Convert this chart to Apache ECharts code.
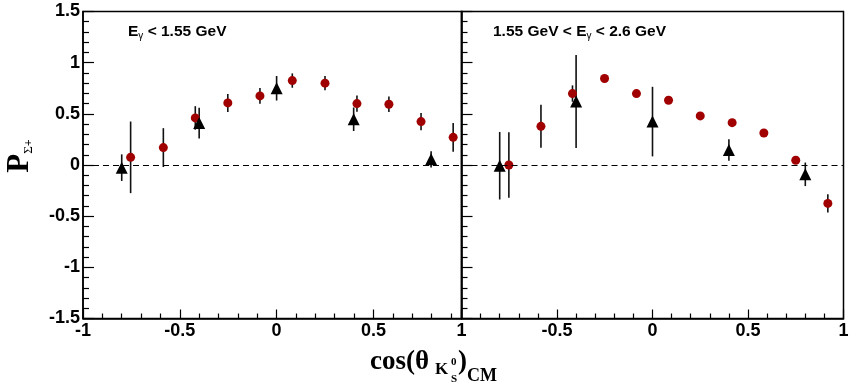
<!DOCTYPE html>
<html>
<head>
<meta charset="utf-8">
<script src="https://cdn.jsdelivr.net/npm/echarts@6/dist/echarts.min.js"></script>
<style>
  html, body { margin: 0; padding: 0; background: #fff; }
  #chart { width: 868px; height: 392px; }
</style>
</head>
<body>
<div id="chart"></div>
<script>
// E_gamma < 1.55 GeV
const lowCircX = [-0.754, -0.585, -0.42, -0.252, -0.086, 0.081, 0.25, 0.415, 0.58, 0.746, 0.912]
const lowCircY = [0.075, 0.17, 0.46, 0.607, 0.675, 0.825, 0.80, 0.60, 0.594, 0.424, 0.27]
const lowCircE = [0.35, 0.19, 0.115, 0.088, 0.077, 0.07, 0.07, 0.08, 0.075, 0.085, 0.14]
const lowTriX = [-0.80, -0.40, 0.0, 0.398, 0.798]
const lowTriY = [-0.026, 0.41, 0.75, 0.447, 0.055]
const lowTriE = [0.13, 0.15, 0.12, 0.115, 0.08]

// 1.55 GeV < E_gamma < 2.6 GeV
const highCircX = [-0.752, -0.584, -0.419, -0.251, -0.084, 0.084, 0.25, 0.417, 0.583, 0.75, 0.918]
const highCircY = [0.0, 0.378, 0.698, 0.845, 0.698, 0.633, 0.48, 0.414, 0.313, 0.046, -0.375]
const highCircE = [0.32, 0.21, 0.08, 0.02, 0.015, 0.015, 0.015, 0.015, 0.015, 0.02, 0.09]
const highTriX = [-0.80, -0.40, 0.0, 0.40, 0.80]
const highTriY = [-0.007, 0.62, 0.424, 0.147, -0.091]
const highTriE = [0.33, 0.455, 0.34, 0.105, 0.115]

const yTicks = ['-1.5', '-1', '-0.5', '0', '0.5', '1', '1.5']

const RED = '#a00000'
const FONT = 'Liberation Sans'
const SERIF = 'Liberation Serif'

const pts = (xs, ys) => xs.map((x, i) => [x, ys[i]])
const bars = (xs, ys, es) => xs.map((x, i) => [x, ys[i] - es[i], ys[i] + es[i]])

function errBar(params, api) {
  const a = api.coord([api.value(0), api.value(1)])
  const b = api.coord([api.value(0), api.value(2)])
  return {
    type: 'line',
    shape: {x1: a[0], y1: a[1], x2: b[0], y2: b[1]},
    style: {stroke: '#111', lineWidth: 1.6}
  }
}

function fmtY(v) {
  const s = String(Math.round(v * 10) / 10)
  return yTicks.includes(s) ? s : ''
}

function xAxisFor(idx, max, fmt) {
  return {
    type: 'value', gridIndex: idx, min: -1, max: max, interval: 0.5,
    axisLine: {show: true, onZero: false, lineStyle: {color: '#000', width: 1.5}},
    axisTick: {inside: true, length: 9, lineStyle: {color: '#000', width: 1.2}},
    minorTick: {show: true, splitNumber: 5, length: 5, lineStyle: {color: '#000', width: 1.2}},
    splitLine: {show: false},
    axisLabel: {
      color: '#000', fontSize: 18, fontWeight: 'bold', fontFamily: FONT, margin: 4,
      showMaxLabel: idx === 1, formatter: fmt
    }
  }
}

function yAxisFor(idx, showLabel) {
  return {
    type: 'value', gridIndex: idx, min: -1.5, max: 1.5, interval: 0.5,
    axisLine: {show: true, onZero: false, lineStyle: {color: '#000', width: 1.5}},
    axisTick: {inside: true, length: 11, lineStyle: {color: '#000', width: 1.2}},
    minorTick: {show: true, splitNumber: 5, length: 6, lineStyle: {color: '#000', width: 1.2}},
    splitLine: {show: false},
    axisLabel: {
      show: showLabel, color: '#000', fontSize: 18, fontWeight: 'bold', fontFamily: FONT,
      margin: 3, formatter: fmtY
    }
  }
}

const zeroLine = {
  silent: true, symbol: 'none', label: {show: false},
  lineStyle: {color: '#000', type: [6, 4], width: 1.2},
  data: [{yAxis: 0}]
}

function panelSeries(idx, cx, cy, ce, tx, ty, te) {
  return [
    {type: 'custom', xAxisIndex: idx, yAxisIndex: idx, renderItem: errBar, data: bars(cx, cy, ce), z: 2, markLine: zeroLine},
    {type: 'custom', xAxisIndex: idx, yAxisIndex: idx, renderItem: errBar, data: bars(tx, ty, te), z: 2},
    {type: 'scatter', xAxisIndex: idx, yAxisIndex: idx, symbol: 'circle', symbolSize: 9,
      itemStyle: {color: RED, opacity: 1}, data: pts(cx, cy), z: 3},
    {type: 'scatter', xAxisIndex: idx, yAxisIndex: idx, symbol: 'triangle', symbolSize: 12,
      itemStyle: {color: '#000', opacity: 1}, data: pts(tx, ty), z: 4}
  ]
}

const subText = {
  a: {fontSize: 15.5, fontWeight: 'bold', fontFamily: FONT, fill: '#000', lineHeight: 18, verticalAlign: 'middle'},
  g: {fontSize: 10, fontFamily: FONT, fill: '#000', lineHeight: 10, verticalAlign: 'bottom'}
}

const chart = echarts.init(document.getElementById('chart'), null, {renderer: 'canvas'})
chart.setOption({
  animation: false,
  backgroundColor: '#fff',
  grid: [
    {left: 83, right: 406.5, top: 11.5, bottom: 73.5, show: true, borderColor: '#000', borderWidth: 1.5, backgroundColor: 'transparent'},
    {left: 461.5, right: 24.5, top: 11.5, bottom: 73.5, show: true, borderColor: '#000', borderWidth: 1.5, backgroundColor: 'transparent'}
  ],
  xAxis: [
    xAxisFor(0, 0.955, v => (v > 0.9 ? '' : String(v))),
    xAxisFor(1, 1, v => (v === -1 ? '1' : String(v)))
  ],
  yAxis: [yAxisFor(0, true), yAxisFor(1, false)],
  series: [
    ...panelSeries(0, lowCircX, lowCircY, lowCircE, lowTriX, lowTriY, lowTriE),
    ...panelSeries(1, highCircX, highCircY, highCircE, highTriX, highTriY, highTriE)
  ],
  graphic: [
    {type: 'text', left: 128, top: 24, style: {text: '{a|E}{g|γ}{a| < 1.55 GeV}', rich: subText}},
    {type: 'text', left: 493, top: 24, style: {text: '{a|1.55 GeV < E}{g|γ}{a| < 2.6 GeV}', rich: subText}},
    // x axis title: cos(theta_{K_S^0})_CM
    {type: 'text', x: 370, y: 362, style: {text: 'cos(θ', font: 'bold 27px "Liberation Serif"', fill: '#000', align: 'left', verticalAlign: 'middle'}},
    {type: 'text', x: 435, y: 370, style: {text: 'K', font: 'bold 17px "Liberation Serif"', fill: '#000', align: 'left', verticalAlign: 'middle'}},
    {type: 'text', x: 451, y: 362, style: {text: '0', font: 'bold 11px "Liberation Serif"', fill: '#000', align: 'left', verticalAlign: 'middle'}},
    {type: 'text', x: 451, y: 379, style: {text: 'S', font: 'bold 11px "Liberation Serif"', fill: '#000', align: 'left', verticalAlign: 'middle'}},
    {type: 'text', x: 458, y: 362, style: {text: ')', font: 'bold 27px "Liberation Serif"', fill: '#000', align: 'left', verticalAlign: 'middle'}},
    {type: 'text', x: 467, y: 376, style: {text: 'CM', font: 'bold 18px "Liberation Serif"', fill: '#000', align: 'left', verticalAlign: 'middle'}},
    // y axis title: P_{Sigma+}
    {
      type: 'text', x: 20, y: 156, rotation: Math.PI / 2,
      style: {
        text: '{p|P}{s|Σ}{u|+}',
        align: 'center', verticalAlign: 'middle',
        rich: {
          p: {fontSize: 31, fontWeight: 'bold', fontFamily: SERIF, fill: '#000', lineHeight: 30, verticalAlign: 'middle'},
          s: {fontSize: 13, fontFamily: SERIF, fill: '#000', lineHeight: 12, verticalAlign: 'bottom'},
          u: {fontSize: 12, fontWeight: 'bold', fontFamily: SERIF, fill: '#000', lineHeight: 12, verticalAlign: 'bottom'}
        }
      }
    }
  ]
})
</script>
</body>
</html>
